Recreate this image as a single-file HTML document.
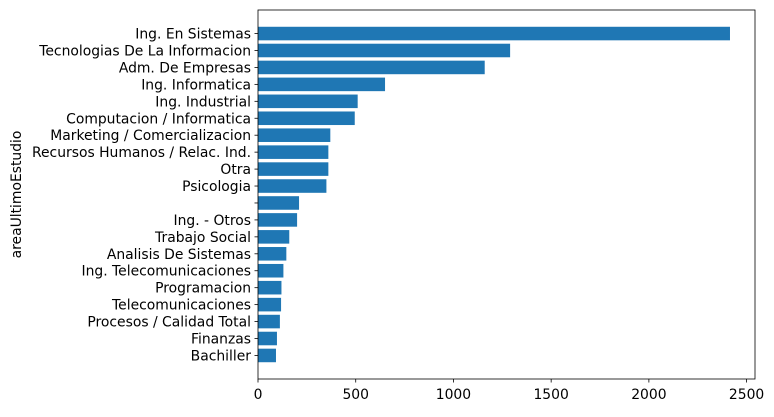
<!DOCTYPE html>
<html><head><meta charset="utf-8"><style>
body{margin:0;background:#fff;font-family:"DejaVu Sans","Liberation Sans",sans-serif;}
svg text{font-family:"DejaVu Sans","Liberation Sans",sans-serif;font-size:13.9px;fill:#000;}
</style></head><body>
<svg id="chart" width="774" height="413"></svg>
<script>
const categories=["Ing. En Sistemas","Tecnologias De La Informacion","Adm. De Empresas","Ing. Informatica","Ing. Industrial","Computacion / Informatica","Marketing / Comercializacion","Recursos Humanos / Relac. Ind.","Otra","Psicologia","","Ing. - Otros","Trabajo Social","Analisis De Sistemas","Ing. Telecomunicaciones","Programacion","Telecomunicaciones","Procesos / Calidad Total","Finanzas","Bachiller"];
const values=[2415,1290,1160,650,510,495,370,360,360,350,210,200,160,145,130,120,118,112,97,92];
const xTicks=[0,500,1000,1500,2000,2500];
const NS="http://www.w3.org/2000/svg";
const svg=document.getElementById('chart');
const L=258,R=755,T=10,B=379;
const xs=v=>L+v*(R-L)/2543;
const n=categories.length;
const lo=-0.4-0.05*(n-1+0.8),hi=n-1+0.4+0.05*(n-1+0.8);
const ys=i=>T+(hi-(n-1-i))*(B-T)/(hi-lo);
const unit=(B-T)/(hi-lo);
function mk(tag,attrs){const e=document.createElementNS(NS,tag);for(const k in attrs)e.setAttribute(k,attrs[k]);svg.appendChild(e);return e;}
values.forEach((v,i)=>{
 const r=mk('rect',{x:L,y:ys(i)-0.4*unit,width:xs(v)-L,height:0.8*unit,fill:'#1f77b4'});
 
 
 mk('line',{x1:L-3.5,x2:L,y1:ys(i),y2:ys(i),stroke:'#000','stroke-width':0.8});
 const t=mk('text',{x:L-7,y:ys(i)+5,'text-anchor':'end'});
 t.textContent=categories[i];
 
 
});
xTicks.forEach(v=>{
 mk('line',{x1:xs(v),x2:xs(v),y1:B,y2:B+3.5,stroke:'#000','stroke-width':0.8});
 const t=mk('text',{x:xs(v),y:B+20,'text-anchor':'middle'});
 t.textContent=v;
 
 
});
const f=mk('rect',{x:L,y:T,width:R-L,height:B-T,fill:'none',stroke:'#000','stroke-width':0.8});


const yt=mk('text',{x:0,y:0,transform:'translate(21,'+((T+B)/2)+') rotate(-90)','text-anchor':'middle'});
yt.textContent='areaUltimoEstudio';


</script>
</body></html>
